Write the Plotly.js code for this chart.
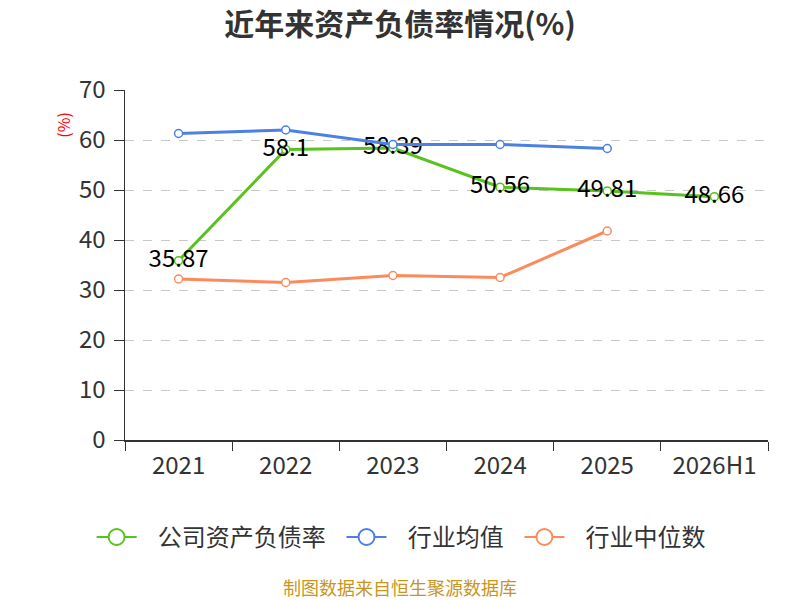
<!DOCTYPE html>
<html>
<head>
<meta charset="utf-8">
<script src="https://cdn.plot.ly/plotly-3.0.1.min.js"></script>
<style>
  html, body { margin: 0; padding: 0; background: #fff; }
  #chart { width: 800px; height: 600px; }
</style>
</head>
<body>
<div id="chart"></div>
<script>
// 近年来资产负债率情况
const years = ["2021", "2022", "2023", "2024", "2025", "2026H1"];
const companyRate = [35.87, 58.1, 58.39, 50.56, 49.81, 48.66];
const industryMean = [61.3, 62.0, 59.1, 59.1, 58.3, null];
const industryMedian = [32.2, 31.5, 32.9, 32.5, 41.8, null];
const seriesNames = ["公司资产负债率", "行业均值", "行业中位数"];

const FONT = '"Noto Sans CJK SC", "Noto Sans", sans-serif';
const GREEN = "#58c21f";
const BLUE = "#4c80e4";
const ORANGE = "#fc8b5c";
const COLORS = [GREEN, BLUE, ORANGE];

function lineTrace(name, ys, color, extra) {
  return {
    x: years,
    y: ys,
    name,
    type: "scatter",
    mode: "lines+markers",
    showlegend: false,
    line: { color, width: 3 },
    marker: { color: "#fff", size: 8, line: { color, width: 1.5 } },
    cliponaxis: false,
    ...extra,
  };
}

const traces = [
  lineTrace(seriesNames[0], companyRate, GREEN, {
    mode: "lines+markers+text",
    text: companyRate.map(String),
    textposition: "middle center",
    textfont: { color: "#000", size: 24, family: FONT },
  }),
  lineTrace(seriesNames[1], industryMean, BLUE),
  lineTrace(seriesNames[2], industryMedian, ORANGE),
];

// legend-only entries, with a bigger symbol than the plotted markers
seriesNames.forEach((name, i) => {
  traces.push({
    x: [null],
    y: [null],
    name: "&nbsp;&nbsp;&nbsp;" + name + "&nbsp;&nbsp;",
    type: "scatter",
    mode: "lines+markers",
    line: { color: COLORS[i], width: 2 },
    marker: { color: "#fff", size: 16, line: { color: COLORS[i], width: 2 } },
  });
});

const layout = {
  width: 800,
  height: 600,
  paper_bgcolor: "#fff",
  plot_bgcolor: "#fff",
  margin: { l: 125, r: 32, t: 90, b: 160 },
  font: { family: FONT, size: 24, color: "#333" },
  title: {
    text: "<b>近年来资产负债率情况(%)</b>",
    x: 0.5,
    xanchor: "center",
    y: 0.96,
    yanchor: "middle",
    font: { family: FONT, size: 30, color: "#333" },
  },
  xaxis: {
    type: "category",
    tickson: "boundaries",
    ticks: "outside",
    ticklen: 9,
    tickcolor: "#333",
    ticklabelstandoff: 4,
    showline: true,
    linecolor: "#333",
    linewidth: 1.5,
    showgrid: false,
    tickfont: { size: 24, color: "#333" },
    range: [-0.5, 5.5],
  },
  yaxis: {
    range: [0, 70],
    dtick: 10,
    ticks: "outside",
    ticklen: 10,
    tickcolor: "#333",
    ticklabelstandoff: 3,
    showline: true,
    linecolor: "#333",
    linewidth: 1.5,
    showgrid: true,
    gridcolor: "#c8c8c8",
    griddash: "dash",
    zeroline: false,
    tickfont: { size: 24, color: "#333" },
  },
  legend: {
    orientation: "h",
    x: 0.438,
    xanchor: "center",
    y: -0.214,
    yanchor: "top",
    font: { size: 24, color: "#333", family: FONT },
    itemwidth: 40,
    itemsizing: "trace",
  },
  annotations: [
    {
      text: "(%)",
      xref: "paper",
      yref: "paper",
      x: -0.097,
      y: 0.9,
      xanchor: "center",
      yanchor: "middle",
      textangle: -90,
      showarrow: false,
      font: { size: 16, color: "#ff0000", family: FONT },
    },
    {
      text: "制图数据来自恒生聚源数据库",
      xref: "paper",
      yref: "paper",
      x: 0.428,
      y: -0.42,
      xanchor: "center",
      yanchor: "middle",
      showarrow: false,
      font: { size: 18, color: "#c9951f", family: FONT },
    },
  ],
};

Plotly.newPlot("chart", traces, layout, { displayModeBar: false, staticPlot: true });
</script>
</body>
</html>
